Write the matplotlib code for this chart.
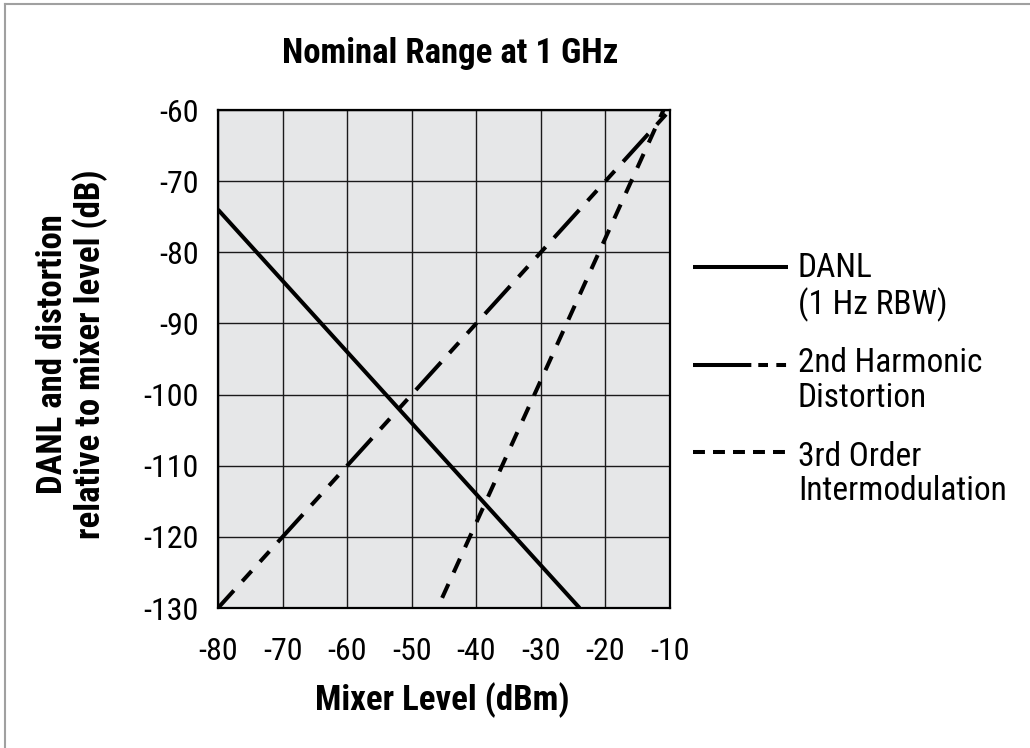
import matplotlib
matplotlib.use('Agg')
import matplotlib.pyplot as plt
from matplotlib.lines import Line2D

plt.rcParams['font.family'] = ['Roboto Condensed', 'DejaVu Sans']
plt.rcParams['font.stretch'] = 'condensed'
plt.rcParams['axes.unicode_minus'] = False
plt.rcParams['lines.scale_dashes'] = False

# data
danl_x = [-80, -24]
danl_y = [-74, -130]
h2_x = [-80, -10]
h2_y = [-130, -60]
im3_x = [-46, -11]
im3_y = [-130, -60]

xticks = [-80, -70, -60, -50, -40, -30, -20, -10]
yticks = [-60, -70, -80, -90, -100, -110, -120, -130]

W, H = 1030, 748
fig = plt.figure(figsize=(W / 100, H / 100), dpi=100)
ax = fig.add_axes([218 / W, 1 - 608 / H, (670 - 218) / W, (608 - 110) / H])
ax.set_facecolor('#e6e7e8')

lw = 2.9
ax.plot(danl_x, danl_y, color='black', lw=lw, solid_capstyle='butt')
ax.plot(h2_x, h2_y, color='black', lw=lw, linestyle=(10, (27, 9, 10, 9, 10, 9)),
        dash_capstyle='butt')
ax.plot(im3_x, im3_y, color='black', lw=lw, linestyle=(-8, (11, 9)),
        dash_capstyle='butt')

ax.set_xlim(-80, -10)
ax.set_ylim(-130, -60)
ax.set_xticks(xticks)
ax.set_yticks(yticks)
ax.grid(True, color='#1a1a1a', lw=1.0)
ax.set_axisbelow(True)
ax.tick_params(length=0, labelsize=23)
ax.tick_params(axis='x', pad=21)
ax.tick_params(axis='y', pad=14)
for sp in ax.spines.values():
    sp.set_linewidth(1.6)
    sp.set_color('black')

fig.text(450 / W, 1 - 63 / H, 'Nominal Range at 1 GHz', ha='center', va='baseline',
         fontsize=25, fontweight='bold')
fig.text(442 / W, 1 - 710 / H, 'Mixer Level (dBm)', ha='center', va='baseline',
         fontsize=25, fontweight='bold')
fig.text(72 / W, 1 - 354 / H, 'DANL and distortion\nrelative to mixer level (dB)',
         rotation=90, ha='center', va='center', fontsize=25, fontweight='bold',
         linespacing=1.12)

# legend drawn by hand, sample line beside the first text line
legend_items = [
    ('DANL\n(1 Hz RBW)', '-', 267, 314),
    ('2nd Harmonic\nDistortion', (0, (42, 5, 7, 6, 7, 10)), 365, 407),
    ('3rd Order\nIntermodulation', (0, (8.6, 5.8)), 452, 500),
]
for label, ls, y, base in legend_items:
    fig.add_artist(Line2D([693 / W, 788 / W], [1 - y / H, 1 - y / H], color='black',
                          lw=lw, linestyle=ls, solid_capstyle='butt',
                          dash_capstyle='butt'))
    fig.text(798 / W, 1 - base / H, label, ha='left', va='baseline',
             fontsize=24, linespacing=1.1)

# frame lines at top and left of the picture
fig.add_artist(Line2D([5 / W, 1], [1 - 4 / H, 1 - 4 / H], color='#a0a0a0', lw=1.5))
fig.add_artist(Line2D([5 / W, 5 / W], [0, 1 - 4 / H], color='#a0a0a0', lw=1.5))

fig.savefig('out.png', dpi=100)
